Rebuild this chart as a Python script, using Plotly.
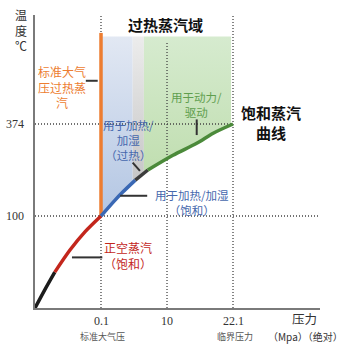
import numpy as np
import plotly.graph_objects as go

# Schematic axis positions (one unit per labelled tick)
x_tick_pos = [1, 2, 3]
x_tick_text = ["0.1", "10", "22.1"]
x_tick_sub = ["标准大气压", "", "临界压力"]
y_tick_pos = [1, 2]
y_tick_text = ["100", "374"]

# Saturated steam curve (schematic pressure position, temperature position)
sat_x = [0.00, 0.15, 0.30, 0.53, 0.76, 1.00, 1.21, 1.33, 1.52, 1.71, 2.09, 2.45, 2.70, 3.00]
sat_y = [0.00, 0.20, 0.39, 0.63, 0.83, 1.00, 1.17, 1.26, 1.39, 1.50, 1.66, 1.79, 1.90, 2.00]

# Colour segments along the curve: (start x, end x, colour)
seg_bounds = [0.00, 0.30, 1.00, 1.52, 1.71, 3.00]
seg_colors = ["#1c1c1c", "#c3261c", "#3a68b4", "#3c3c3c", "#4b8a3a"]

# Superheated zones: (start x, end x, bottom colour, top colour)
zone_bounds = [1.00, 1.48, 1.65, 2.97]
zone_colors = [("#b3c6e3", "#e2e8f3"), ("#c6c6c6", "#ececec"), ("#c0deb0", "#d6ebcf")]
zone_top = 2.95

X_MAX, Y_MAX = 4.318, 3.185
SANS = "Noto Sans CJK SC"
SERIF = "Liberation Serif"

sx = np.array(sat_x)
sy = np.array(sat_y)


def curve_between(a, b):
    inner = sx[(sx > a) & (sx < b)]
    xs = np.concatenate([[a], inner, [b]])
    return xs, np.interp(xs, sx, sy)


fig = go.Figure()

# Shaded superheated zones above the curve
for (a, b), (c0, c1) in zip(zip(zone_bounds[:-1], zone_bounds[1:]), zone_colors):
    xs, ys = curve_between(a, b)
    px_ = np.concatenate([[a], xs, [b, a]])
    py_ = np.concatenate([[zone_top], ys, [zone_top, zone_top]])
    fig.add_trace(go.Scatter(
        x=px_, y=py_, mode="lines", fill="toself", line=dict(width=0),
        fillgradient=dict(type="vertical", colorscale=[[0, c0], [1, c1]]),
        hoverinfo="skip", showlegend=False))

dot = dict(color="#444", width=1.3, dash="1px,2px")


def seg(x, y, line):
    fig.add_trace(go.Scatter(x=x, y=y, mode="lines", line=line,
                             hoverinfo="skip", showlegend=False))


# Reference grid (dotted)
seg([0, 3], [2, 2], dot)
seg([0, X_MAX], [1, 1], dot)
seg([1, 1], [0, Y_MAX], dot)
seg([2, 2], [0, 2.88], dot)
seg([3, 3], [0, Y_MAX], dot)

# Atmospheric-pressure superheat line
seg([1, 1], [1, 2.99], dict(color="#ed7d31", width=3.5))

# Saturation curve, coloured by use
for a, b, c in zip(seg_bounds[:-1], seg_bounds[1:], seg_colors):
    xs, ys = curve_between(a, b)
    seg(xs, ys, dict(color=c, width=3.5, shape="spline", smoothing=0.8))

# Leader lines
lead = dict(color="#333", width=2)
seg([0.77, 0.95], [2.47, 2.47], lead)
seg([1.48, 1.59], [1.58, 1.49], lead)
seg([2.45, 2.45], [2.05, 1.88], lead)
seg([1.29, 1.70], [1.22, 1.22], lead)
seg([0.56, 1.02], [0.55, 0.55], lead)

ann = []


def label(x, y, text, size, color, family=SANS, bold=False, xanchor="center"):
    # positions given in axis units, placed in paper space so labels outside the
    # plotting area stay visible
    if bold:
        text = "<b>" + text + "</b>"
    ann.append(dict(x=x / X_MAX, y=y / Y_MAX, xref="paper", yref="paper", text=text,
                    showarrow=False, xanchor=xanchor, yanchor="middle",
                    font=dict(size=size, color=color, family=family)))


# Tick labels
for p, t, s in zip(x_tick_pos, x_tick_text, x_tick_sub):
    label(p, -0.14, t, 12, "#333", SERIF)
    if s:
        label(p + 0.03, -0.31, s, 9, "#555")
for p, t in zip(y_tick_pos, y_tick_text):
    label(-0.13, p, t, 12, "#333", SERIF, xanchor="right")

# Axis titles
label(-0.21, 3.02, "温<br>度<br>℃", 12, "#333")
label(4.08, -0.11, "压力", 12.5, "#333")
label(4.10, -0.31, "（Mpa）（绝对）", 10, "#333")

# Region and curve labels
label(1.97, 3.08, "过热蒸汽域", 15, "#111", bold=True)
label(0.41, 2.40, "标准大气<br>压过热蒸<br>汽", 12, "#ed7d31")
label(1.42, 1.83, "用于加热/<br>加湿<br>（过热）", 11.5, "#4668ad")
label(2.45, 2.21, "用于动力/<br>驱动", 11.5, "#5f9e4e")
label(3.57, 2.02, "饱和蒸汽<br>曲线", 15, "#111", bold=True)
label(2.38, 1.15, "用于加热/加湿<br>（饱和）", 11.5, "#4668ad")
label(1.41, 0.57, "正空蒸汽<br>（饱和）", 12, "#c3261c")

fig.update_layout(
    width=350, height=350,
    margin=dict(l=35, r=30, t=15, b=42),
    paper_bgcolor="white", plot_bgcolor="white",
    annotations=ann,
    xaxis=dict(range=[0, X_MAX], showgrid=False, zeroline=False, showticklabels=False,
               ticks="", showline=True, linecolor="#7a7a7a", linewidth=2, fixedrange=True),
    yaxis=dict(range=[0, Y_MAX], showgrid=False, zeroline=False, showticklabels=False,
               ticks="", showline=True, linecolor="#7a7a7a", linewidth=2, fixedrange=True),
)

fig.write_html("out.html")
